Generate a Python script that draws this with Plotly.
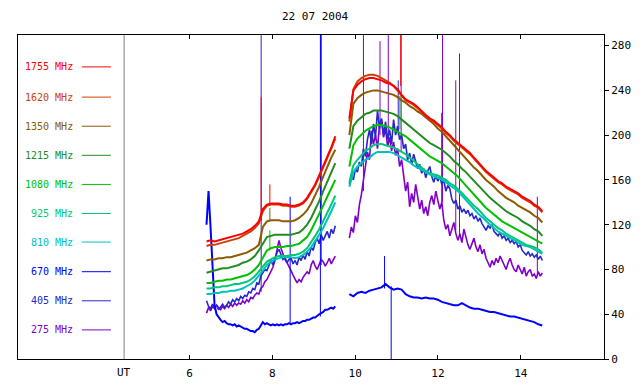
import numpy as np
import plotly.graph_objects as go

title_text = "22 07 2004"

# time windows (UT hours) of the two observing segments
seg1_start, seg1_end = 6.41, 9.52
seg2_start, seg2_end = 9.86, 14.52

# ---- series values, segment a (morning) and b (afternoon) ----
f1755_a = [105,106,105,106,107,108,109,110,111,112, 114,116,119,123,134,138,139,139,139,138,
           138,137,137,138,140,144,150,156,164,172, 180,189,199]
f1755_b = [215,240,245,248,250,251,251,250,249,247, 246,244,241,236,232,230,228,225,221,218,
           215,213,210,207,203,200,196,193,190,187, 184,180,176,172,168,165,162,159,157,154,
           152,150,148,145,143,141,138,136,132]

f1620_a = [101,102,102,103,104,105,106,107,108,110, 112,114,117,121,132,137,138,138,138,137,
           137,136,136,137,139,143,149,155,163,171, 179,188,197]
f1620_b = [212,241,248,251,253,254,254,253,251,249, 247,244,240,235,231,229,227,224,220,217,
           214,212,209,206,202,199,195,192,189,186, 183,179,175,171,167,164,161,158,156,153,
           151,149,147,144,142,140,137,135,131]

f1350_a = [88,89,89,90,90,91,91,92,93,94, 95,97,99,102,118,123,124,124,124,123,
           123,123,124,126,129,133,139,146,154,163, 172,180,187]
f1350_b = [200,228,233,236,238,239,240,240,239,238, 237,236,234,231,229,226,224,221,219,216,
           213,210,206,203,199,195,191,187,183,179, 175,171,168,164,160,157,154,150,147,144,
           142,140,137,135,133,131,128,126,122]

f1215_a = [77,78,79,80,81,81,82,83,84,86, 87,89,92,97,103,109,110,111,111,111,
           111,111,112,113,116,120,126,133,141,150, 158,166,175]
f1215_b = [188,208,213,216,219,220,222,222,222,221, 220,219,217,214,211,208,205,202,199,196,
           193,191,189,187,184,181,177,174,170,167, 163,159,155,151,148,144,141,138,135,132,
           130,128,126,123,121,119,116,114,110]

f1080_a = [68,68,69,70,70,71,71,72,73,74, 75,77,80,84,90,97,99,100,100,100,
           101,101,102,103,106,109,115,122,129,137, 145,153,160]
f1080_b = [172,191,197,201,204,206,208,209,209,208, 207,205,203,201,199,196,193,190,187,184,
           181,179,177,175,172,169,166,163,159,155, 151,147,143,139,135,132,129,126,123,121,
           119,117,115,113,111,109,107,105,103]

f925_a = [63,63,64,64,65,65,66,67,67,68, 69,71,74,78,83,87,89,91,92,92,
          92,93,93,94,96,99,104,110,116,123, 130,138,146]
f925_b = [158,173,178,182,186,188,191,192,192,191, 190,189,187,185,183,180,177,174,171,168,
          166,165,164,162,160,157,155,152,148,145, 141,137,134,130,126,123,120,117,115,112,
          110,108,106,104,102,101,100,98,95]

f810_a = [58,58,59,59,60,60,61,61,62,63, 65,67,70,74,79,84,87,89,90,91,
          91,91,90,91,93,96,100,105,111,117, 124,132,140]
f810_b = [154,167,172,175,178,180,183,185,185,185, 185,184,182,180,178,176,173,171,169,167,
          165,163,162,160,158,155,153,150,146,142, 138,134,130,127,123,120,117,114,112,110,
          108,106,104,102,101,100,98,96,94]

f670_a = [120,150,118,75,48,40,37,35,33,34, 32,31,31,30,31,29,30,29,28,27,
          27,26,25,25,24,26,27,30,33,31, 32,31,30,31,30,31,30,31,30,31,
          31,32,31,32,32,33,32,33,34,34, 35,35,36,37,37,39,40,41,42,44,
          44,45,46,45,47]
f670_b = [58,56,59,60,59,61,62,63,64,67, 64,62,63,62,58,56,55,55,54,55,
          54,54,53,51,50,49,48,48,50,48, 46,45,45,44,43,42,42,41,40,39,
          38,38,37,36,35,34,33,31,30]

f405_a = [52,47,45,49,46,48,44,47,49,46, 48,51,49,53,51,54,52,56,54,57,
          56,60,59,63,62,68,67,74,77,80, 79,84,88,84,90,95,98,93,89,91,
          86,89,90,85,88,84,91,88,93,89, 96,92,100,97,104,108,103,111,106,110,
          114,108,116,112,119]
f405_b = [156,165,160,170,167,176,172,188,181,196, 205,192,210,198,222,206,215,200,212,196,
          205,192,214,200,208,196,200,188,192,178, 184,174,183,176,170,174,166,170,162,168,
          172,163,158,164,159,163,156,160,150,155, 152,143,139,142,134,137,131,134,130,133,
          128,130,125,128,123,126,121,118,115,119, 117,120,114,112,110,113,108,110,106,108,
          104,106,103,105,100,102,97,95,93,96, 92,94,91,93,89,92,88]

f275_a = [41,46,43,47,45,48,46,44,47,45, 48,46,49,47,50,48,50,49,52,50,
          53,51,55,54,57,59,58,63,65,69, 71,75,78,82,88,97,106,99,93,89,
          86,83,79,75,72,68,71,69,73,75, 78,76,84,88,83,80,84,89,87,83,
          86,90,85,89,92]
f275_b = [108,118,113,128,122,138,147,160,172,185, 178,204,192,200,188,210,214,198,206,190,
          198,186,194,182,188,172,178,162,150,158, 136,148,140,156,146,134,142,130,136,128,
          140,146,138,150,142,134,140,124,116,120, 110,116,122,112,106,112,104,116,108,102,
          98,104,108,100,96,102,94,98,90,86, 82,88,84,90,86,92,88,84,80,86,
          90,84,80,78,84,80,76,82,74,78, 80,74,76,72,78,74,77]

# short bursts / spikes: time, channel, low value, high value
spike_t    = [7.73, 7.73, 7.94, 7.94, 7.94, 8.43, 9.16, 9.17, 9.18, 10.20, 10.60, 10.71,
              10.80, 10.87, 11.04, 11.08, 11.10, 11.11, 12.09, 12.11, 12.43, 12.52, 14.40]
spike_freq = ["405", "1755", "1755", "1350", "1080", "670", "670", "405", "275", "275", "275", "670",
              "275", "670", "405", "1080", "1755", "275", "275", "275", "275", "275", "275"]
spike_lo   = [60, 123, 138, 123, 97, 31, 38, 108, 84, 150, 200, 63,
              190, 65, 200, 205, 244, 185, 140, 140, 115, 110, 76]
spike_hi   = [300, 234, 156, 135, 115, 145, 300, 300, 300, 300, 284, 92,
              300, 0, 249, 235, 300, 300, 220, 300, 249, 273, 145]

freq_names = ["1755", "1620", "1350", "1215", "1080", "925", "810", "670", "405", "275"]
freq_colors = ["#FF0000", "#D04000", "#8C5A00", "#228B22", "#00C000",
               "#00C878", "#00C0C0", "#0000FF", "#2828C8", "#8000C8"]
freq_data = {
    "1755": (f1755_a, f1755_b), "1620": (f1620_a, f1620_b), "1350": (f1350_a, f1350_b),
    "1215": (f1215_a, f1215_b), "1080": (f1080_a, f1080_b), "925": (f925_a, f925_b),
    "810": (f810_a, f810_b), "670": (f670_a, f670_b), "405": (f405_a, f405_b),
    "275": (f275_a, f275_b),
}
legend_y = [261, 234, 208, 182, 156, 130, 104.5, 78, 52, 26]

FONT = "DejaVu Sans Mono"
fig = go.Figure()

# draw low frequencies first, high frequencies on top
for name, color in list(zip(freq_names, freq_colors))[::-1]:
    a, b = freq_data[name]
    ta = np.linspace(seg1_start, seg1_end, len(a)).tolist()
    tb = np.linspace(seg2_start, seg2_end, len(b)).tolist()
    noisy = name in ("275", "405")
    fig.add_trace(go.Scatter(x=ta + [None] + tb, y=list(a) + [None] + list(b), mode="lines",
                             line=dict(color=color, width=1.6 if noisy else 2.0),
                             hoverinfo="skip", showlegend=False))
    sx, sy = [], []
    for t, f, lo, hi in zip(spike_t, spike_freq, spike_lo, spike_hi):
        if f == name:
            sx += [t, t, None]
            sy += [lo, hi, None]
    if sx:
        fig.add_trace(go.Scatter(x=sx, y=sy, mode="lines", line=dict(color=color, width=1),
                                 hoverinfo="skip", showlegend=False))

# in-plot legend
for name, color, ly in zip(freq_names, freq_colors, legend_y):
    fig.add_annotation(x=3.234, y=ly, xref="x", yref="y", text=f"{name} MHz", showarrow=False,
                       xanchor="right", yanchor="middle", font=dict(family=FONT, size=10, color=color))
    fig.add_shape(type="line", x0=3.40, x1=4.10, y0=ly, y1=ly, xref="x", yref="y",
                  line=dict(color=color, width=1))

# UT marker line and label
fig.add_shape(type="line", x0=4.42, x1=4.42, y0=0, y1=1, xref="x", yref="paper",
              line=dict(color="#808080", width=1))
fig.add_annotation(x=4.42, y=-0.043, xref="x", yref="paper", text="UT", showarrow=False,
                   xanchor="center", yanchor="middle", font=dict(family=FONT, size=11, color="black"))
fig.add_annotation(x=0.507, y=1.0556, xref="paper", yref="paper", text=title_text, showarrow=False,
                   xanchor="center", yanchor="middle", font=dict(family=FONT, size=11, color="black"))

fig.update_layout(
    width=640, height=384, margin=dict(l=18, r=36, t=35, b=25),
    paper_bgcolor="white", plot_bgcolor="white",
    font=dict(family=FONT, size=11, color="black"),
    xaxis=dict(range=[1.857, 16.01], tickvals=[6, 8, 10, 12, 14], ticks="inside", ticklen=4,
               tickcolor="black", showline=True, linecolor="black", linewidth=1, mirror="ticks",
               showgrid=False, zeroline=False, ticklabelstandoff=4, automargin=False),
    yaxis=dict(range=[0, 289.5], tickvals=list(range(0, 281, 40)), side="right", ticks="outside",
               ticklen=4, tickcolor="black", showline=True, linecolor="black", linewidth=1,
               mirror=True, showgrid=False, zeroline=False, automargin=False),
)

pin_script = (
    "var gd=document.getElementById('{plot_id}');"
    "document.documentElement.style.cssText='margin:0;padding:0;overflow:hidden;width:640px;height:384px';"
    "document.body.style.cssText='margin:0;padding:0;overflow:hidden;width:640px;height:384px';"
    "gd.parentElement.style.cssText='margin:0;padding:0;width:640px;height:384px;overflow:hidden';"
)
fig.write_html("out.html", config={"displayModeBar": False}, post_script=pin_script)
